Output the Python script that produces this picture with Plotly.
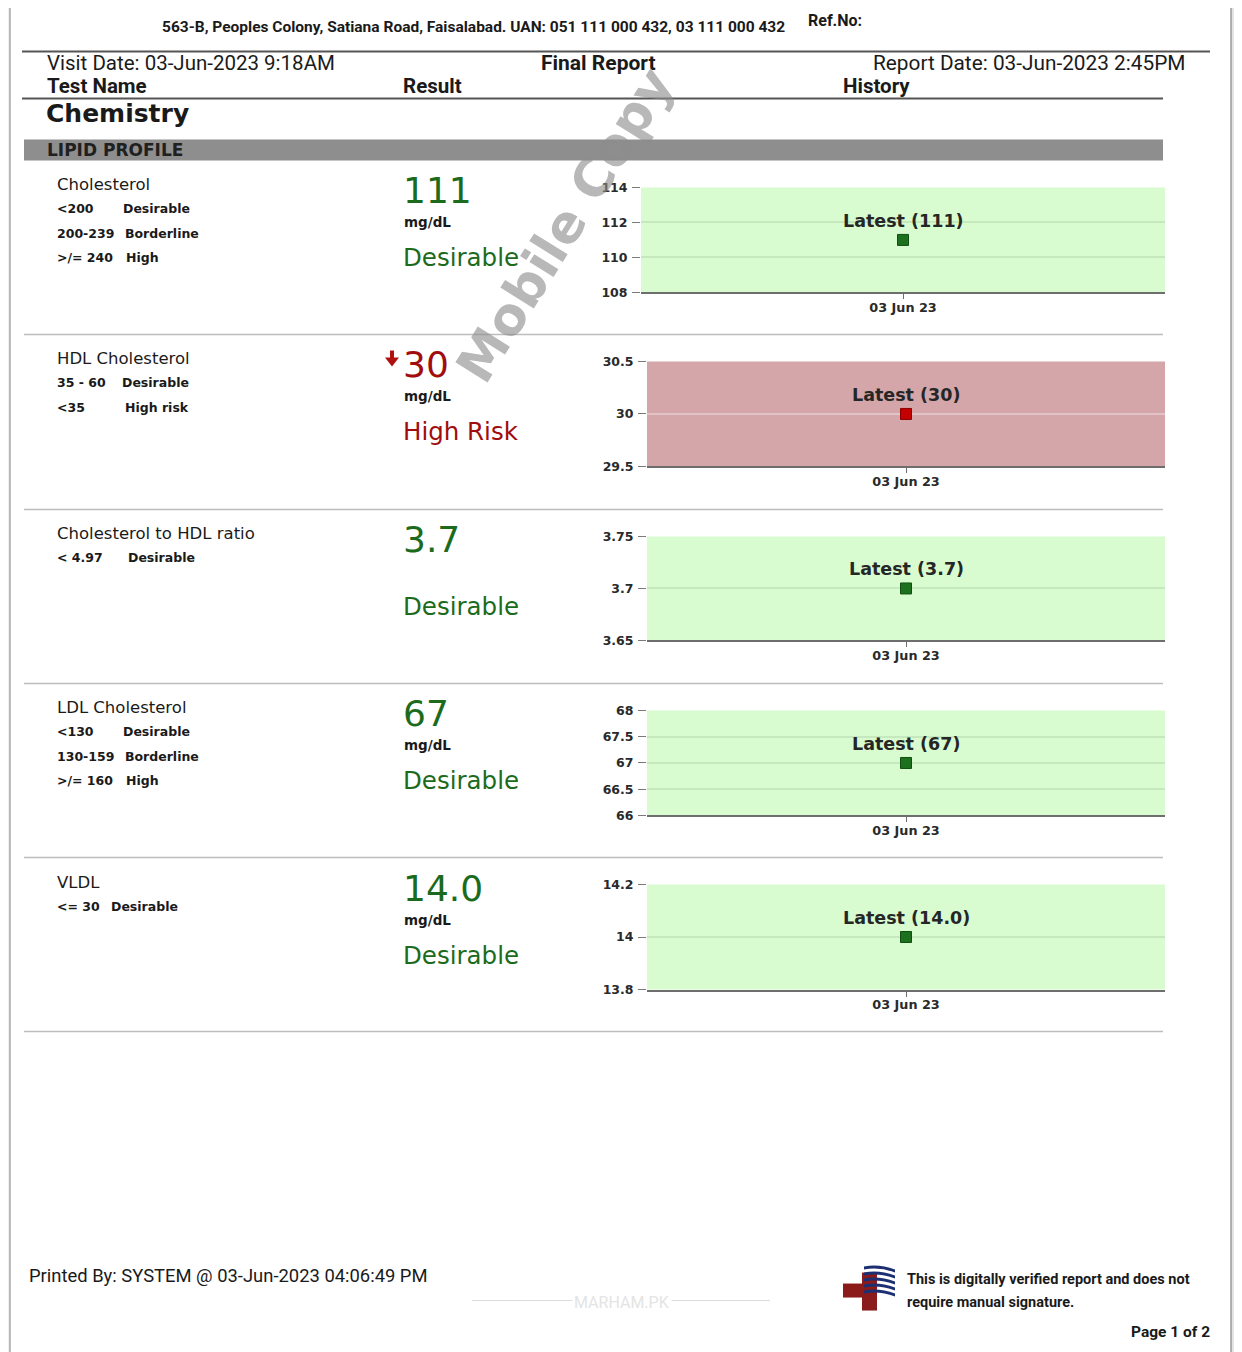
import plotly.graph_objects as go

# figure size / offsets measured so that the rendered page lines up with the 1242x1352 window
FW, FH = 1234, 1352
OFFX, OFFY, SY = 8, 15.6, 0.9888

# ---------------- data ----------------
tests = ["Cholesterol", "HDL Cholesterol", "Cholesterol to HDL ratio", "LDL Cholesterol", "VLDL"]
results = [111, 30, 3.7, 67, 14.0]
result_text = ["111", "30", "3.7", "67", "14.0"]
units = ["mg/dL", "mg/dL", "", "mg/dL", "mg/dL"]
status = ["Desirable", "High Risk", "Desirable", "Desirable", "Desirable"]
flag_low = [False, True, False, False, False]
dates = ["03 Jun 23"]
ref_ranges = [
    [("<200", "Desirable"), ("200-239", "Borderline"), (">/= 240", "High")],
    [("35 - 60", "Desirable"), ("<35", "High risk")],
    [("< 4.97", "Desirable")],
    [("<130", "Desirable"), ("130-159", "Borderline"), (">/= 160", "High")],
    [("<= 30", "Desirable")],
]
y_ranges = [[108, 114], [29.5, 30.5], [3.65, 3.75], [66, 68], [13.8, 14.2]]
y_ticks = [[108, 110, 112, 114], [29.5, 30, 30.5], [3.65, 3.7, 3.75],
           [66, 66.5, 67, 67.5, 68], [13.8, 14, 14.2]]

# ---------------- layout (positions in reference pixels) ----------------
label_x = [[123, 125, 126], [122, 125], [128], [123, 125, 126], [111]]
row_top = [184, 358, 533, 707, 882]
sep_y = [334, 509, 683, 857, 1031]
chart_box = [(641, 187, 292), (647, 361, 466), (647, 536, 640), (647, 710, 815), (647, 884, 989)]


def px(x):
    return (x - OFFX) / FW


def py(y):
    return 1 - ((y - OFFY) / SY) / FH


GREEN = "#1c6b1c"
RED = "#a10d0d"
DARK = "#1a1a1a"
FONT = "DejaVu Sans"
HFONT = "Roboto"

fig = go.Figure()
annotations = []
shapes = []


def text(x, y, s, size=14, color=DARK, bold=False, anchor="left", font=FONT, **kw):
    annotations.append(dict(
        x=px(x), y=py(y), xref="paper", yref="paper", text=s, showarrow=False,
        xanchor=anchor, yanchor="middle",
        font=dict(family=font, size=size, color=color, weight="bold" if bold else "normal"),
        **kw))


def hline(y, x0, x1, color="#bdbdbd", width=1.5):
    shapes.append(dict(type="line", xref="paper", yref="paper",
                       x0=px(x0), x1=px(x1), y0=py(y), y1=py(y),
                       line=dict(color=color, width=width)))


def rect(x0, y0, x1, y1, color, layer="above"):
    shapes.append(dict(type="rect", xref="paper", yref="paper", x0=px(x0), x1=px(x1),
                       y0=py(y1), y1=py(y0), fillcolor=color, line=dict(width=0), layer=layer))


# page edges
rect(0, 0, 10, 1400, "#efefef", layer="below")
shapes.append(dict(type="line", xref="paper", yref="paper", x0=px(10), x1=px(10), y0=-0.05, y1=1.05,
                   line=dict(color="#a8a8a8", width=1.5)))
rect(1231, 0, 1250, 1400, "#e4e4e4", layer="below")
shapes.append(dict(type="line", xref="paper", yref="paper", x0=px(1231), x1=px(1231), y0=-0.05, y1=1.05,
                   line=dict(color="#9a9a9a", width=1.5)))

# header
text(806, 20, "Ref.No:", size=16, font=HFONT, bold=True)
text(473, 27, "563-B, Peoples Colony, Satiana Road, Faisalabad. UAN: 051 111 000 432, 03 111 000 432",
     size=15.5, font=HFONT, anchor="center", bold=True)
hline(51, 22, 1210, color="#555555", width=2)
text(45, 63, "Visit Date: 03-Jun-2023 9:18AM", size=20.5, font=HFONT)
text(598, 63, "Final Report", size=21, font=HFONT, bold=True, anchor="center")
text(1187, 63, "Report Date: 03-Jun-2023 2:45PM", size=20.8, font=HFONT, anchor="right")
text(45, 86, "Test Name", size=20.5, font=HFONT, bold=True)
text(401, 86, "Result", size=20.5, font=HFONT, bold=True)
text(841, 86, "History", size=20.5, font=HFONT, bold=True)
hline(98, 22, 1163, color="#555555", width=2)
text(44, 113, "Chemistry", size=25, bold=True)
rect(24, 139, 1163, 160, "#8e8e8e")
text(45, 150, "LIPID PROFILE", size=17, bold=True, color="#202020")

# rows
for i in range(5):
    t = row_top[i]
    col = RED if flag_low[i] else GREEN
    text(55, t, tests[i], size=16.5)
    for j, (rng, lab) in enumerate(ref_ranges[i]):
        yy = t + 24.5 * (j + 1)
        text(55, yy, rng, size=12.5, bold=True)
        text(label_x[i][j] - 2, yy, lab, size=12.5, bold=True)
    text(401, t + 6, result_text[i], size=36, color=col)
    if flag_low[i]:
        path = (f"M {px(390)},{py(350)} L {px(394)},{py(350)} L {px(394)},{py(357)} "
                f"L {px(399)},{py(357)} L {px(392)},{py(366)} L {px(385)},{py(357)} "
                f"L {px(390)},{py(357)} Z")
        shapes.append(dict(type="path", xref="paper", yref="paper", path=path,
                           fillcolor="#b01010", line=dict(width=0)))
    if units[i]:
        text(402, t + 38, units[i], size=13.5, bold=True)
    text(401, t + 73, status[i], size=24.5, color=col)
    hline(sep_y[i], 24, 1163)

    # chart
    x0, ytop, ybot = chart_box[i]
    n = i + 1
    xa = "x" if n == 1 else f"x{n}"
    ya = "y" if n == 1 else f"y{n}"
    bg = "#d4a6a9" if flag_low[i] else "#d8fcd0"
    fig.add_trace(go.Scatter(
        x=dates, y=[results[i]], mode="markers", xaxis=xa, yaxis=ya,
        marker=dict(symbol="square", size=11, color=("#c40000" if flag_low[i] else "#1d701d"),
                    line=dict(color=("#8a0000" if flag_low[i] else "#0f4f0f"), width=1)),
        showlegend=False, hoverinfo="skip"))
    shapes.append(dict(type="rect", xref=f"{xa} domain", yref=f"{ya} domain",
                       x0=0, x1=1, y0=0, y1=1, fillcolor=bg,
                       line=dict(width=0), layer="below"))
    annotations.append(dict(x=dates[0], y=results[i], xref=xa, yref=ya,
                            text=f"Latest ({result_text[i]})", showarrow=False, yshift=19,
                            xanchor="center", yanchor="middle",
                            font=dict(family=FONT, size=17.5, color="#262626", weight="bold")))
    fig.layout[f"xaxis{'' if n == 1 else n}"] = dict(
        domain=[px(x0), px(1165)], anchor=ya, type="category", range=[-0.5, 0.5],
        showgrid=False, showline=True, linecolor="#6e6e6e", linewidth=2,
        ticks="outside", ticklen=5, tickcolor="#6e6e6e", ticklabelstandoff=-3,
        tickfont=dict(family=FONT, size=12.8, color="#2a2a2a", weight="bold"), fixedrange=True)
    fig.layout[f"yaxis{'' if n == 1 else n}"] = dict(
        domain=[py(ybot), py(ytop)], anchor=xa, range=y_ranges[i],
        tickvals=y_ticks[i], showgrid=True,
        gridcolor=("#e2c4c6" if flag_low[i] else "#c6e8bf"),
        gridwidth=1.5, zeroline=False, showline=False,
        ticks="outside", ticklen=8, tickcolor="#7a7a7a", ticklabelstandoff=2,
        tickfont=dict(family=FONT, size=12.5, color="#2a2a2a", weight="bold"), fixedrange=True)

# watermark
annotations.append(dict(x=px(565), y=py(225), xref="paper", yref="paper", text="<b>Mobile Copy</b>",
                        showarrow=False, textangle=-58, xanchor="center", yanchor="middle",
                        font=dict(family=FONT, size=52, color="rgba(140,140,140,0.62)")))

# footer
text(27, 1275, "Printed By: SYSTEM @ 03-Jun-2023 04:06:49 PM", size=18.4, font=HFONT)
hline(1300, 472, 770, color="#dcdcdc", width=1)
text(622, 1302, "MARHAM.PK", size=16, font=HFONT, anchor="center", color="#e4e4e4",
     bgcolor="white")
text(905, 1279, "This is digitally verified report and does not", size=14.5, font=HFONT, bold=True)
text(905, 1302, "require manual signature.", size=14.5, font=HFONT, bold=True)
text(1212, 1331, "Page 1 of 2", size=15.5, font=HFONT, anchor="right", bold=True)

# logo
rect(843, 1283, 864, 1297, "#8b1a1a")
rect(862, 1272, 877, 1310, "#8b1a1a")
for k in range(5):
    yy = 1266 + k * 6
    path = (f"M {px(864)},{py(yy)} Q {px(879)},{py(yy - 3)} {px(895)},{py(yy + 3)} "
            f"L {px(895)},{py(yy + 6)} Q {px(879)},{py(yy)} {px(864)},{py(yy + 3)} Z")
    shapes.append(dict(type="path", xref="paper", yref="paper", path=path,
                       fillcolor="#1d2f73", line=dict(width=0)))

fig.update_layout(
    width=FW, height=FH, margin=dict(l=0, r=0, t=0, b=0),
    paper_bgcolor="white", plot_bgcolor="rgba(0,0,0,0)",
    annotations=annotations, shapes=shapes, showlegend=False,
)

fig.write_html("out.html")
